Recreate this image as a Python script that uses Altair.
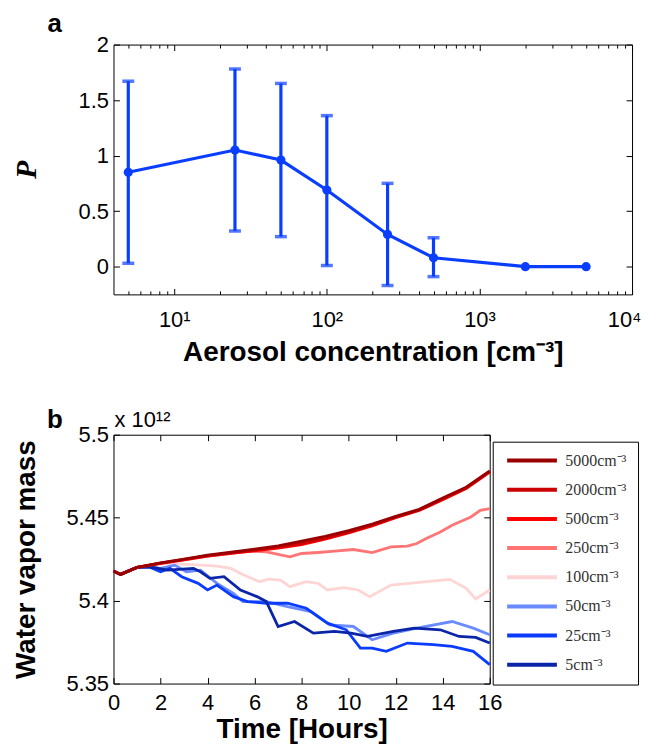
import altair as alt
import pandas as pd

# ---------------- Panel a data ----------------
conc = [5, 25, 50, 100, 250, 500, 2000, 5000]
p_mean = [0.85, 1.05, 0.96, 0.69, 0.29, 0.08, 0.0, 0.0]
p_low = [0.03, 0.32, 0.27, 0.01, -0.17, -0.09, None, None]
p_high = [1.67, 1.78, 1.65, 1.36, 0.75, 0.26, None, None]
x_ticks_a = [5, 6, 7, 8, 9, 10, 20, 30, 40, 50, 60, 70, 80, 90, 100,
             200, 300, 400, 500, 600, 700, 800, 900, 1000,
             2000, 3000, 4000, 5000, 6000, 7000, 8000, 9000, 10000]
y_ticks_a = [0, 0.5, 1, 1.5, 2]

# ---------------- Panel b data ----------------
t_red = [0, 0.3, 1, 2, 3, 4, 5, 6, 7, 8, 9, 10, 11, 12, 13, 14, 15, 16]
v_5000 = [5.4178, 5.4158, 5.4200, 5.4228, 5.4250, 5.4274, 5.4292, 5.4310, 5.4330, 5.4358,
          5.4388, 5.4422, 5.4462, 5.4508, 5.4550, 5.4618, 5.4684, 5.4782]
v_2000 = [5.4178, 5.4158, 5.4200, 5.4226, 5.4248, 5.4271, 5.4288, 5.4305, 5.4322, 5.4345,
          5.4376, 5.4412, 5.4455, 5.4503, 5.4546, 5.4612, 5.4680, 5.4778]
v_500 = [5.4178, 5.4158, 5.4200, 5.4225, 5.4246, 5.4268, 5.4285, 5.4300, 5.4316, 5.4338,
         5.4370, 5.4408, 5.4450, 5.4500, 5.4543, 5.4608, 5.4676, 5.4774]
t_250 = [0, 0.3, 1, 2, 3, 4, 5, 5.8, 6.5, 7.5, 8.0, 8.7, 9.4, 10.2, 11.0, 11.8, 12.5, 12.9,
         13.3, 13.9, 14.4, 15.2, 15.6, 16]
v_250 = [5.4178, 5.4158, 5.4200, 5.4225, 5.4246, 5.4268, 5.4285, 5.4298, 5.4294, 5.4264,
         5.4284, 5.4290, 5.4298, 5.4308, 5.4290, 5.4324, 5.4328, 5.4344, 5.4374, 5.4414,
         5.4454, 5.4504, 5.4544, 5.4554]
t_100 = [0, 0.3, 1, 1.5, 2.3, 3.7, 4.4, 5.0, 5.4, 6.2, 6.6, 7.1, 7.5, 8.2, 8.7, 9.1, 9.8,
         10.4, 10.9, 11.8, 12.9, 14.3, 15.0, 15.4, 16]
v_100 = [5.4178, 5.4158, 5.4200, 5.4210, 5.4224, 5.4214, 5.4208, 5.4194, 5.4164, 5.4114,
         5.4130, 5.4124, 5.4084, 5.4114, 5.4104, 5.4064, 5.4078, 5.4064, 5.4024, 5.4094,
         5.4108, 5.4128, 5.4074, 5.4010, 5.4064]
t_50 = [0, 0.3, 1, 1.5, 2.0, 2.6, 3.1, 3.7, 4.4, 5.1, 5.5, 6.5, 7.4, 8.4, 9.2, 10.2, 11.0,
        11.9, 12.9, 14.4, 15.3, 16]
v_50 = [5.4178, 5.4158, 5.4200, 5.4204, 5.4194, 5.4214, 5.4174, 5.4184, 5.4104, 5.4044,
        5.3994, 5.3994, 5.3964, 5.3934, 5.3854, 5.3844, 5.3764, 5.3804, 5.3834, 5.3874,
        5.3834, 5.3794]
t_25 = [0, 0.3, 1, 1.5, 2.0, 2.4, 2.9, 3.6, 4.0, 4.4, 5.1, 5.7, 6.5, 7.4, 8.2, 9.1, 9.9,
        10.5, 11.0, 11.6, 12.5, 13.6, 14.4, 15.3, 16]
v_25 = [5.4178, 5.4158, 5.4200, 5.4204, 5.4174, 5.4194, 5.4144, 5.4104, 5.4064, 5.4094,
        5.4024, 5.3994, 5.3984, 5.3984, 5.3954, 5.3864, 5.3824, 5.3714, 5.3714, 5.3694,
        5.3744, 5.3734, 5.3724, 5.3694, 5.3614]
t_5 = [0, 0.3, 1, 1.5, 2.3, 3.4, 3.7, 4.1, 4.7, 5.4, 6.1, 6.5, 7.0, 7.7, 8.5, 9.4, 10.1,
       10.8, 11.9, 12.8, 13.9, 14.7, 15.4, 16]
v_5 = [5.4178, 5.4158, 5.4200, 5.4204, 5.4184, 5.4194, 5.4174, 5.4134, 5.4144, 5.4064,
       5.4024, 5.3994, 5.3844, 5.3874, 5.3804, 5.3814, 5.3804, 5.3784, 5.3814, 5.3834,
       5.3824, 5.3784, 5.3778, 5.3744]
legend_labels = ["5000cm⁻³", "2000cm⁻³", "500cm⁻³", "250cm⁻³",
                 "100cm⁻³", "50cm⁻³", "25cm⁻³", "5cm⁻³"]
series_colors = ["#990000", "#cc0000", "#ff0000", "#ff7474",
                 "#ffd4d4", "#6a8aff", "#0a3cff", "#0a25a8"]
hour_ticks = [0, 2, 4, 6, 8, 10, 12, 14, 16]
mass_ticks = [5.35, 5.4, 5.45, 5.5]

BLUE = "#0a3eff"
FONT = "Liberation Sans"

# ---------------- build tables ----------------
df_a = pd.DataFrame({"conc": conc, "p": p_mean, "lo": p_low, "hi": p_high})

series = [
    ("100cm⁻³", t_100, v_100), ("250cm⁻³", t_250, v_250),
    ("50cm⁻³", t_50, v_50), ("25cm⁻³", t_25, v_25), ("5cm⁻³", t_5, v_5),
    ("500cm⁻³", t_red, v_500), ("2000cm⁻³", t_red, v_2000), ("5000cm⁻³", t_red, v_5000),
]
rows = []
for name, ts, vs in series:
    for t, v in zip(ts, vs):
        rows.append({"series": name, "t": t, "v": v})
df_b = pd.DataFrame(rows)

# ---------------- Panel a ----------------
is_major = "abs(log(datum.value)/LN10 - round(log(datum.value)/LN10)) < 0.01"
xa_scale = alt.Scale(type="log", domain=[4, 10000], nice=False)
ya_scale = alt.Scale(domain=[-0.25, 2], nice=False, zero=False)

xa_axis = alt.Axis(
    values=x_ticks_a, orient="bottom",
    labelExpr=is_major + " ? '10' + ['⁰','¹','²','³','⁴'][round(log(datum.value)/LN10)] : ''",
    tickSize=alt.ExprRef(expr=is_major + " ? -6 : -3.5"),
    labelPadding=21, labelOverlap=False, labelFlush=True, labelFlushOffset=9,
    title="Aerosol concentration [cm⁻³]", titleY=58, titleBaseline="middle",
)
ya_axis = alt.Axis(
    values=y_ticks_a, orient="left", format=".1~f",
    tickSize=alt.ExprRef(expr="-6"), labelPadding=11, labelFlush=False,
    title="P", titleFont="Liberation Serif", titleFontStyle="italic",
    titleFontSize=30, titleX=-87, titleBaseline="middle",
)
xa_mirror = alt.Axis(values=x_ticks_a, orient="top", labels=False, title=None,
                     tickSize=alt.ExprRef(expr=is_major + " ? -6 : -3.5"))
ya_mirror = alt.Axis(values=y_ticks_a, orient="right", labels=False, title=None,
                     tickSize=alt.ExprRef(expr="-6"))

base_a = alt.Chart(df_a)
xa = alt.X("conc:Q", scale=xa_scale, axis=xa_axis)
ya = alt.Y("p:Q", scale=ya_scale, axis=ya_axis)

line_a = base_a.mark_line(color=BLUE, strokeWidth=3.2).encode(x=xa, y=ya)
pts_a = base_a.mark_circle(color=BLUE, size=85, opacity=1).encode(x=xa, y=ya)
err_a = base_a.mark_rule(color=BLUE, strokeWidth=3.2).encode(
    x=xa, y=alt.Y("lo:Q", scale=ya_scale, axis=ya_axis), y2="hi:Q")
cap_lo = base_a.mark_tick(color=BLUE, orient="horizontal", size=12, thickness=3.5).encode(
    x=xa, y=alt.Y("lo:Q", scale=ya_scale, axis=ya_axis))
cap_hi = base_a.mark_tick(color=BLUE, orient="horizontal", size=12, thickness=3.5).encode(
    x=xa, y=alt.Y("hi:Q", scale=ya_scale, axis=ya_axis))
lab_a = alt.Chart(pd.DataFrame({"t": ["a"]})).mark_text(
    font=FONT, fontSize=26, fontWeight="bold", align="center", baseline="middle"
).encode(text="t:N", x=alt.value(-59), y=alt.value(-21))

mirror_a = base_a.mark_point(opacity=0).encode(
    x=alt.X("conc:Q", scale=xa_scale, axis=xa_mirror),
    y=alt.Y("p:Q", scale=ya_scale, axis=ya_mirror))

panel_a = alt.layer(
    alt.layer(err_a, cap_lo, cap_hi, line_a, pts_a, lab_a), mirror_a
).resolve_axis(x="independent", y="independent").properties(width=521, height=251)

# ---------------- Panel b ----------------
xb_scale = alt.Scale(domain=[0, 16], nice=False, zero=False)
yb_scale = alt.Scale(domain=[5.35, 5.5], nice=False, zero=False)

xb_axis = alt.Axis(values=hour_ticks, orient="bottom", format="d",
                   tickSize=alt.ExprRef(expr="-6"), labelPadding=15, labelFlush=False,
                   title="Time [Hours]", titleY=46, titleBaseline="middle")
yb_axis = alt.Axis(values=mass_ticks, orient="left", format=".2~f",
                   tickSize=alt.ExprRef(expr="-6"), labelPadding=11, labelFlush=False,
                   title="Water vapor mass", titleX=-87, titleBaseline="middle")
xb_mirror = alt.Axis(values=hour_ticks, orient="top", labels=False, title=None,
                     tickSize=alt.ExprRef(expr="-6"))
yb_mirror = alt.Axis(values=mass_ticks, orient="right", labels=False, title=None,
                     tickSize=alt.ExprRef(expr="-6"))

lines_b = alt.Chart(df_b).mark_line(strokeWidth=2.8).encode(
    x=alt.X("t:Q", scale=xb_scale, axis=xb_axis),
    y=alt.Y("v:Q", scale=yb_scale, axis=yb_axis),
    color=alt.Color(
        "series:N",
        scale=alt.Scale(domain=legend_labels, range=series_colors),
        legend=alt.Legend(
            orient="none", legendX=381, legendY=7, title=None,
            symbolType="M-5,0L5,0", symbolSize=100, symbolStrokeWidth=4,
            symbolOffset=20.5, labelOffset=25.5, padding=11, rowPadding=13.3,
            strokeColor="black", fillColor="white",
            labelFont="Liberation Serif", labelFontSize=16, labelColor="#333333",
        ),
    ),
)
lab_b = alt.Chart(pd.DataFrame({"t": ["b"]})).mark_text(
    font=FONT, fontSize=26, fontWeight="bold", align="center", baseline="middle"
).encode(text="t:N", x=alt.value(-59), y=alt.value(-15))
exp_b = alt.Chart(pd.DataFrame({"t": ["x 10¹²"]})).mark_text(
    font=FONT, fontSize=22, align="left", baseline="middle"
).encode(text="t:N", x=alt.value(1), y=alt.value(-15))

mirror_b = alt.Chart(df_b).mark_point(opacity=0).encode(
    x=alt.X("t:Q", scale=xb_scale, axis=xb_mirror),
    y=alt.Y("v:Q", scale=yb_scale, axis=yb_mirror))

panel_b = alt.layer(
    alt.layer(lines_b, lab_b, exp_b), mirror_b
).resolve_axis(x="independent", y="independent").properties(width=378, height=250)

chart = alt.vconcat(panel_a, panel_b, spacing=39).resolve_legend(
    color="independent"
).properties(
    padding={"left": 3, "top": 0, "right": 0, "bottom": 0}
).configure_view(
    stroke="black", strokeWidth=1
).configure_axis(
    domain=False, grid=False, tickColor="black", tickWidth=1,
    labelFont=FONT, labelFontSize=22, labelColor="black",
    titleFont=FONT, titleFontSize=28, titleFontWeight="bold", titleColor="black",
)

chart.save("out.html", embed_options={"renderer": "svg", "actions": False})
